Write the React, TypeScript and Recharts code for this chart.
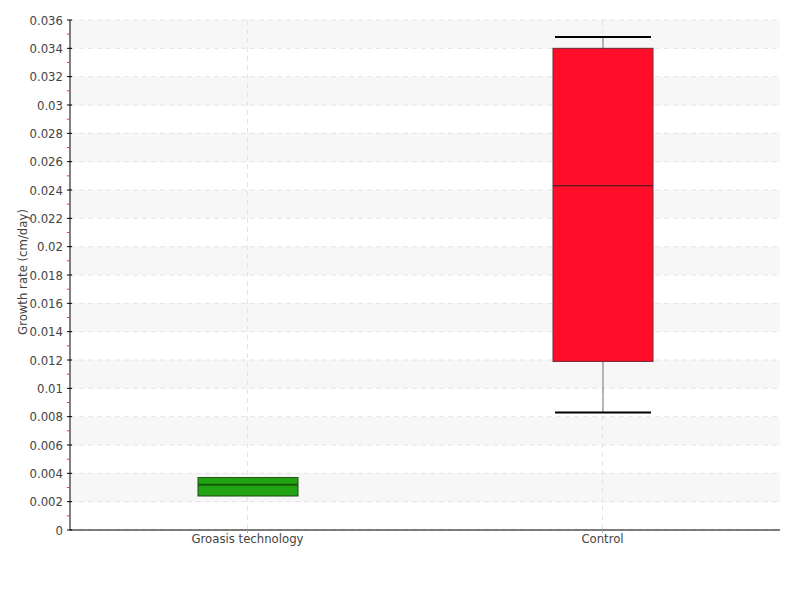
import { Bar, CartesianGrid, ComposedChart, Label, XAxis, YAxis } from "recharts";

const categories = ["Groasis technology", "Control"];
const lowWhisker = [0.0024, 0.0083];
const q1 = [0.0024, 0.0119];
const median = [0.0032, 0.0243];
const q3 = [0.0037, 0.034];
const highWhisker = [0.0037, 0.0348];

const majorTicks = [
  0, 0.002, 0.004, 0.006, 0.008, 0.01, 0.012, 0.014, 0.016, 0.018, 0.02, 0.022, 0.024, 0.026, 0.028, 0.03, 0.032,
  0.034, 0.036,
];
const minorTicks = [
  0.001, 0.003, 0.005, 0.007, 0.009, 0.011, 0.013, 0.015, 0.017, 0.019, 0.021, 0.023, 0.025, 0.027, 0.029, 0.031,
  0.033, 0.035,
];

const boxFill = ["#22a312", "#ff0d29"];
const boxStroke = ["#1d4d14", "#6e2a30"];
const medianStroke = ["#17590c", "#222222"];

const FONT = "'DejaVu Sans Condensed', 'Liberation Sans Narrow', sans-serif";
const TICK_SIZE = 3;
const TICK_MARGIN = 3;

const data = categories.map((name, i) => ({
  name,
  idx: i,
  box: [q1[i], q3[i]],
  low: lowWhisker[i],
  med: median[i],
  high: highWhisker[i],
}));

function BoxShape(props: any) {
  const { x, y, width, height, payload } = props;
  const top = Math.min(y, y + height);
  const h = Math.abs(height);
  const bottom = top + h;
  const [lo, hi] = payload.box;
  const ppu = h / (hi - lo);
  const toY = (v: number) => bottom - (v - lo) * ppu;
  const cx = x + width / 2;
  const capHalf = width * 0.48;
  const i = payload.idx;
  return (
    <g>
      {payload.high > hi && (
        <>
          <line x1={cx} x2={cx} y1={toY(payload.high)} y2={top} stroke="#777" strokeWidth={1} />
          <line x1={cx - capHalf} x2={cx + capHalf} y1={toY(payload.high)} y2={toY(payload.high)} stroke="#000" strokeWidth={2} />
        </>
      )}
      {payload.low < lo && (
        <>
          <line x1={cx} x2={cx} y1={bottom} y2={toY(payload.low)} stroke="#777" strokeWidth={1} />
          <line x1={cx - capHalf} x2={cx + capHalf} y1={toY(payload.low)} y2={toY(payload.low)} stroke="#000" strokeWidth={2} />
        </>
      )}
      <rect x={x} y={top} width={width} height={h} fill={boxFill[i]} stroke={boxStroke[i]} strokeWidth={1} />
      <line x1={x} x2={x + width} y1={toY(payload.med)} y2={toY(payload.med)} stroke={medianStroke[i]} strokeWidth={i === 0 ? 2 : 1} />
    </g>
  );
}

function YTick(props: any) {
  const { x, y, payload } = props;
  const axisX = x + TICK_SIZE + TICK_MARGIN;
  const isMajor = majorTicks.includes(payload.value);
  if (!isMajor) {
    return <line x1={axisX - 3} x2={axisX} y1={y} y2={y} stroke="#ff3333" strokeWidth={1} />;
  }
  return (
    <g>
      <line x1={axisX - 3} x2={axisX + 2} y1={y} y2={y} stroke="#000" strokeWidth={1} />
      <text x={x - 1} y={y} dy="0.35em" textAnchor="end" fill="#444" fontSize={13} fontFamily={FONT}>
        {String(payload.value)}
      </text>
    </g>
  );
}

// vertical grid only at category centres, not at the plot edges
const centreLines = ({ offset }: any) =>
  categories.map((_, i) => offset.left + (offset.width * (i + 0.5)) / categories.length);

export default function App() {
  return (
    <div style={{ position: "absolute", left: 0, top: 0, width: 800, height: 600, background: "#fff" }}>
      <ComposedChart width={800} height={600} data={data} margin={{ top: 20, right: 20, bottom: 0, left: 20 }}>
        <CartesianGrid
          stroke="#e4e4e4"
          strokeDasharray="5 4"
          horizontalValues={majorTicks}
          verticalCoordinatesGenerator={centreLines}
          horizontalFill={["#f7f7f7", "#ffffff"]}
          fillOpacity={1}
        />
        <XAxis
          dataKey="name"
          height={70}
          axisLine={{ stroke: "#000" }}
          tickLine={{ stroke: "#aaa" }}
          tickSize={3}
          tickMargin={1}
          tick={{ fill: "#444", fontSize: 13, fontFamily: FONT }}
        />
        <YAxis
          type="number"
          domain={[0, 0.036]}
          ticks={[...majorTicks, ...minorTicks].sort((a, b) => a - b)}
          interval={0}
          width={50}
          axisLine={{ stroke: "#000" }}
          tickLine={false}
          tickSize={TICK_SIZE}
          tickMargin={TICK_MARGIN}
          tick={<YTick />}
        >
          <Label
            content={({ viewBox }: any) => {
              const lx = viewBox.x + 7;
              const ly = viewBox.y + viewBox.height / 2 - 3;
              return (
                <text
                  x={lx}
                  y={ly}
                  transform={`rotate(-90, ${lx}, ${ly})`}
                  textAnchor="middle"
                  fill="#444"
                  fontSize={13}
                  fontFamily={FONT}
                >
                  Growth rate (cm/day)
                </text>
              );
            }}
          />
        </YAxis>
        <Bar dataKey="box" barSize={100} shape={<BoxShape />} isAnimationActive={false} />
      </ComposedChart>
    </div>
  );
}
